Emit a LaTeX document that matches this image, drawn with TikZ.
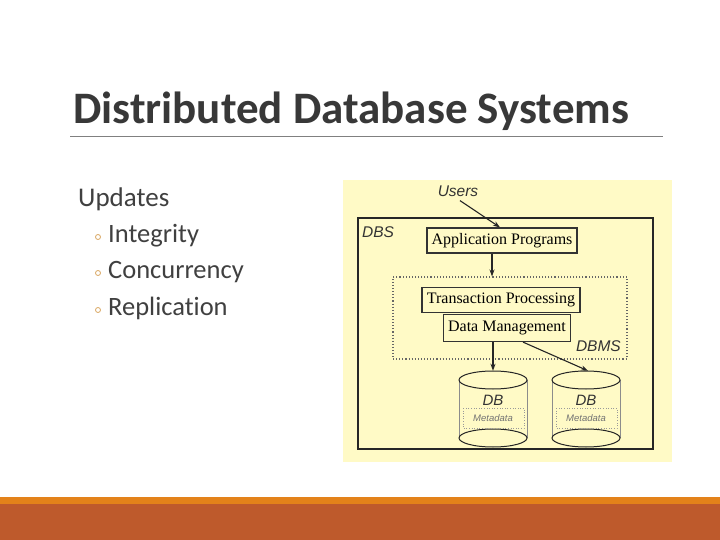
\documentclass[tikz,border=0pt]{standalone}
\usepackage{fontspec}
\setmainfont{Carlito}[RawFeature=-liga]
\newfontfamily\diagsans{Liberation Sans}
\newfontfamily\diagserif{Liberation Serif}
\usetikzlibrary{arrows.meta,positioning,calc}
\definecolor{Ink}{HTML}{404040}
\definecolor{Paper}{HTML}{FFFAC6}
\definecolor{Rust}{HTML}{BE5A2C}
\definecolor{Amber}{HTML}{E3821A}
\definecolor{Bead}{HTML}{D9A560}
\newcommand{\DBDrum}[2]{%
  \node[inner sep=0pt,minimum width=68pt,minimum height=68pt] (#1) at (#2,405) {};%
  \draw[black!45,line width=0.6pt] (#2-34,380) -- (#2-34,438) (#2+34,380) -- (#2+34,438);%
  \draw[black!85,line width=1pt] (#2,380) ellipse (34pt and 9pt);%
  \draw[black!85,line width=1pt] (#2,438) ellipse (34pt and 9pt);%
  \draw[black!40,dotted,line width=0.6pt] (#2-30,408) rectangle (#2+31,428);%
  \node[font=\diagsans\itshape\fontsize{15}{17}\selectfont,text=black!80] (#1lbl) at (#2,400) {DB};%
  \node[font=\diagsans\itshape\fontsize{9.5}{11}\selectfont,text=black!55] (#1meta) at (#2,418) {Metadata};%
}

\begin{document}
\begin{tikzpicture}[x=1pt,y=-1pt,
  slidetext/.style={inner sep=0pt,text=Ink},
  layerbox/.style={draw=black!80,line width=1.2pt,fill=Paper,inner sep=0pt,
    font=\diagserif\fontsize{16}{18}\selectfont},
  tag/.style={inner sep=0pt,font=\diagsans\itshape\fontsize{15.5}{17}\selectfont,text=black!80},
  flow/.style={-{Stealth[length=7pt,width=5pt]},line width=1.1pt,black!85}]
\useasboundingbox (0,0) rectangle (720,540);
\fill[white] (0,0) rectangle (720,540);
% title and rule
\node[slidetext,anchor=base west,font=\bfseries\fontsize{45}{50}\selectfont,text=black!78] (title) at (73,124) {Distributed Database Systems};
\draw[black!50,line width=0.8pt] (70,136) -- (663,136);
% bullet list
\node[slidetext,anchor=base west,font=\fontsize{27}{32}\selectfont] (updates) at (78,207) {Updates};
\foreach \y/\s [count=\i] in {242/Integrity,278/Concurrency,315/Replication} {
  \node[draw=Bead,circle,inner sep=0pt,minimum size=5pt,line width=0.8pt] (bead\i) at (98,\y-5) {};
  \node[slidetext,anchor=base west,font=\fontsize{26.5}{31}\selectfont] (item\i) at (108,\y) {\s};
}
% footer bands
\fill[Amber] (0,497) rectangle (720,504);
\fill[Rust] (0,504) rectangle (720,540);
% diagram
\fill[Paper] (343,180) rectangle (672,462);
\draw[black!85,line width=1.3pt] (358,218) rectangle (653,449);
\node[tag,anchor=west] (dbs) at (362,232) {DBS};
\node[draw=black!60,dotted,line width=1.1pt,minimum width=234pt,minimum height=82pt] (dbms) at (510,318) {};
\node[tag,anchor=east] (dbmslbl) at (621,346) {DBMS};
\node[tag] (users) at (458,191) {Users};
\node[layerbox,minimum width=150pt,minimum height=25pt] (ap) at (502,240.5) {Application Programs};
\node[layerbox,minimum width=158pt,minimum height=25pt] (tp) at (501,300) {Transaction Processing};
\node[layerbox,minimum width=127pt,minimum height=27pt] (dm) at (507,328) {Data Management};
\DBDrum{dbone}{493}
\DBDrum{dbtwo}{586}
\draw[flow] ([xshift=2pt,yshift=-4pt]users.south) -- ([xshift=-2pt]ap.north);
\draw[flow] ([xshift=-10pt]ap.south) -- ([xshift=-10pt]ap.south |- dbms.north);
\draw[flow] (dm.south -| dbone.north) -- (dbone.north);
\draw[flow] ([xshift=16pt]dm.south) -- ([xshift=2pt]dbtwo.north);
\end{tikzpicture}
\end{document}
